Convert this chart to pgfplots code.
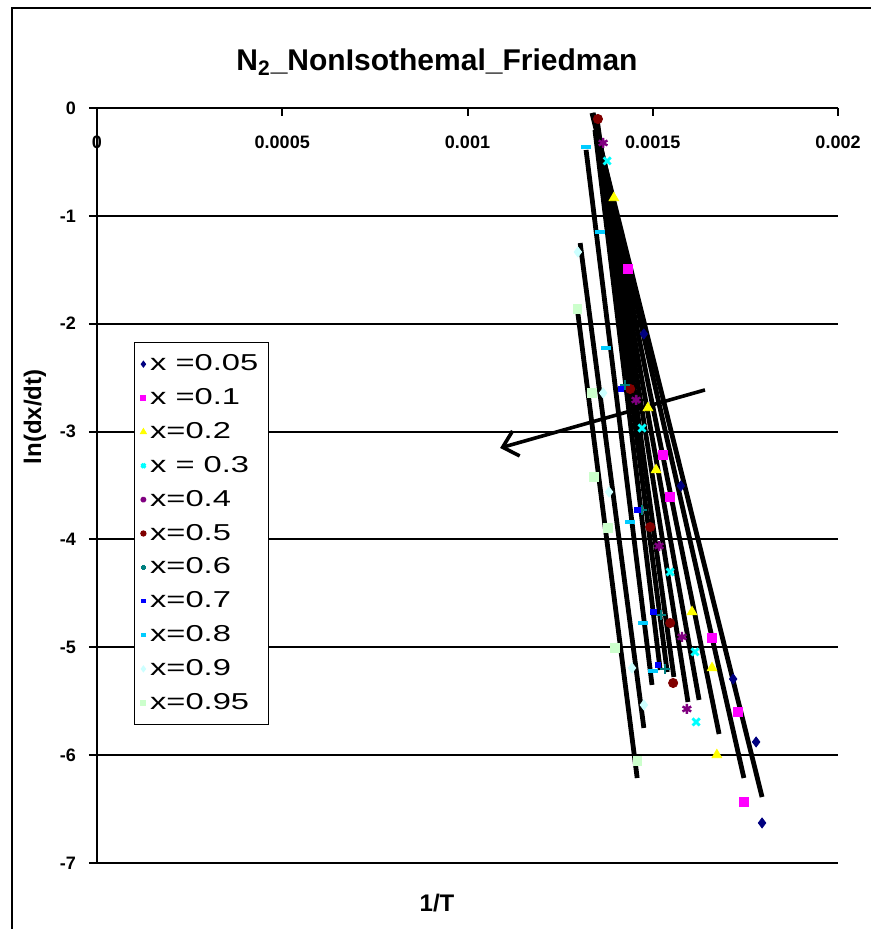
\documentclass[border=0pt]{standalone}
\usepackage{pgfplots}
\pgfplotsset{compat=1.18}
\usepackage{fontspec}
\setmainfont{Liberation Sans}
\newfontfamily\legfont{Liberation Sans}[FakeStretch=1.42]
\usetikzlibrary{arrows.meta}
\definecolor{cNavy}{HTML}{000080}
\definecolor{cMag}{HTML}{FF00FF}
\definecolor{cYel}{HTML}{FFFF00}
\definecolor{cCya}{HTML}{00FFFF}
\definecolor{cPur}{HTML}{800080}
\definecolor{cRed}{HTML}{800000}
\definecolor{cTeal}{HTML}{008080}
\definecolor{cBlue}{HTML}{0000FF}
\definecolor{cSky}{HTML}{00CCFF}
\definecolor{cLCy}{HTML}{CCFFFF}
\definecolor{cLGr}{HTML}{CCFFCC}
\begin{document}
\begin{tikzpicture}
\useasboundingbox (0pt,0pt) rectangle (435.5pt,464.5pt);
\fill[white] (0pt,0pt) rectangle (435.5pt,464.5pt);
\draw[line width=1pt] (6pt,0pt) -- (6pt,460.5pt) -- (435.5pt,460.5pt);
\node[font=\fontsize{15}{18}\selectfont\bfseries] at (218.5pt,433.5pt) {N\textsubscript{2}\_NonIsothemal\_Friedman};
\node[font=\fontsize{12}{14}\selectfont\bfseries, rotate=90] at (17.5pt,256pt) {ln(dx/dt)};
\node[font=\fontsize{12}{14}\selectfont\bfseries] at (218.5pt,13pt) {1/T};
\begin{axis}[
  at={(48.5pt,33pt)}, anchor=south west,
  scale only axis, width=370.5pt, height=377.5pt,
  xmin=0, xmax=0.002, ymin=-7, ymax=0,
  axis x line*=top, axis y line*=left,
  axis line style={black, line width=1.4pt, -},
  xtick={0,0.0005,0.001,0.0015,0.002},
  xticklabels={0,0.0005,0.001,0.0015,0.002},
  ytick={-7,-6,-5,-4,-3,-2,-1,0},
  yticklabels={-7,-6,-5,-4,-3,-2,-1,0},
  scaled ticks=false,
  /pgf/number format/assume math mode=true,
  tick style={black, line width=1pt},
  xtick align=inside, ytick align=outside,
  major tick length=4pt,
  ymajorgrids, grid style={black, line width=1pt},
  ticklabel style={font=\fontsize{9}{11}\selectfont\bfseries},
  xticklabel style={anchor=center, yshift=-17pt},
  yticklabel style={xshift=-3pt},
  legend style={at={(0.05,0.69)}, anchor=north west, draw=black, line width=0.6pt,
    font=\legfont\fontsize{11.5}{13}\selectfont, row sep=3.4pt, inner xsep=3pt, inner ysep=4pt},
  legend cell align=left,
  legend image code/.code={\draw[#1, scale=0.55] plot coordinates {(0.3cm,0cm)};},
]
% data points
\addplot[only marks, mark=diamond*, color=cNavy, mark size=2.5pt] coordinates {
(0.001476,-2.095) (0.001576,-3.504) (0.001717,-5.294) (0.001779,-5.878) (0.001795,-6.629)};
\addlegendentry{x =0.05}
\addplot[only marks, mark=square*, color=cMag, mark size=2.2pt] coordinates {
(0.001433,-1.493) (0.001528,-3.217) (0.001547,-3.606) (0.001660,-4.914) (0.001730,-5.600) (0.001746,-6.434)};
\addlegendentry{x =0.1}
\addplot[only marks, mark=triangle*, color=cYel, mark size=2.8pt] coordinates {
(0.001395,-0.834) (0.001487,-2.781) (0.001509,-3.356) (0.001606,-4.673) (0.001660,-5.192) (0.001673,-5.998)};
\addlegendentry{x=0.2}
\addplot[only marks, mark=x, color=cCya, mark size=2.5pt, line width=1.4pt] coordinates {
(0.001377,-0.491) (0.001471,-2.967) (0.001547,-4.302) (0.001614,-5.043) (0.001617,-5.692)};
\addlegendentry{x = 0.3}
\addplot[only marks, mark=asterisk, color=cPur, mark size=2.5pt, line width=1.2pt] coordinates {
(0.001366,-0.324) (0.001455,-2.707) (0.001517,-4.061) (0.001579,-4.904) (0.001592,-5.572)};
\addlegendentry{x=0.4}
\addplot[only marks, mark=*, color=cRed, mark size=2.3pt] coordinates {
(0.001352,-0.102) (0.001439,-2.605) (0.001493,-3.885) (0.001547,-4.775) (0.001555,-5.331)};
\addlegendentry{x=0.5}
\addplot[only marks, mark=+, color=cTeal, mark size=2.5pt, line width=1.4pt] coordinates {
(0.001425,-2.568) (0.001471,-3.727) (0.001522,-4.700) (0.001533,-5.201)};
\addlegendentry{x=0.6}
\addplot[only marks, mark=square*, color=cBlue, mark size=1.4pt] coordinates {
(0.001414,-2.605) (0.001458,-3.727) (0.001501,-4.673) (0.001514,-5.164)};
\addlegendentry{x=0.7}
\addplot[only marks, mark=-, color=cSky, mark size=2.5pt, line width=2pt] coordinates {
(0.001320,-0.362) (0.001358,-1.150) (0.001374,-2.225) (0.001439,-3.838) (0.001474,-4.775) (0.001501,-5.220)};
\addlegendentry{x=0.8}
\addplot[only marks, mark=diamond*, color=cLCy, mark size=2.5pt] coordinates {
(0.001298,-1.335) (0.001366,-2.642) (0.001382,-3.560) (0.001444,-5.192) (0.001476,-5.535)};
\addlegendentry{x=0.9}
\addplot[only marks, mark=square*, color=cLGr, mark size=2.1pt] coordinates {
(0.001296,-1.864) (0.001336,-2.642) (0.001341,-3.421) (0.001379,-3.894) (0.001398,-5.006) (0.001458,-6.054)};
\addlegendentry{x=0.95}
% linear trend lines
\addplot[black, line width=2.4pt, forget plot] coordinates {(0.001336,-0.046) (0.001795,-6.388)};
\addplot[black, line width=2.4pt, forget plot] coordinates {(0.001339,-0.046) (0.001746,-6.212)};
\addplot[black, line width=2.4pt, forget plot] coordinates {(0.001341,-0.065) (0.001679,-5.804)};
\addplot[black, line width=2.4pt, forget plot] coordinates {(0.001344,-0.083) (0.001625,-5.488)};
\addplot[black, line width=2.4pt, forget plot] coordinates {(0.001347,-0.093) (0.001595,-5.507)};
\addplot[black, line width=2.4pt, forget plot] coordinates {(0.001350,-0.111) (0.001557,-5.275)};
\addplot[black, line width=2.4pt, forget plot] coordinates {(0.001347,-0.158) (0.001539,-5.229)};
\addplot[black, line width=2.4pt, forget plot] coordinates {(0.001344,-0.204) (0.001520,-5.210)};
\addplot[black, line width=2.4pt, forget plot] coordinates {(0.001320,-0.389) (0.001498,-5.349)};
\addplot[black, line width=2.4pt, forget plot] coordinates {(0.001304,-1.252) (0.001476,-5.748)};
\addplot[black, line width=2.4pt, forget plot] coordinates {(0.001296,-1.854) (0.001458,-6.212)};
% arrow annotation
\draw[line width=1.8pt, -{Straight Barb[length=7pt,width=13pt]}] (axis cs:0.001641,-2.614) -- (axis cs:0.001088,-3.152);
\end{axis}
\end{tikzpicture}
\end{document}
